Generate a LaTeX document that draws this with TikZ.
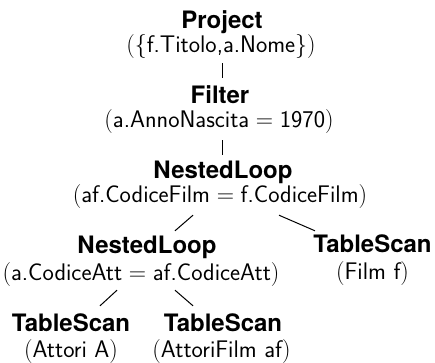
\RequirePackage{fix-cm}
\documentclass[tikz,border=0pt]{standalone}
\usepackage{fontspec}
\newfontfamily\opfont{TeX Gyre Heros}
\usetikzlibrary{calc}

% operator name and its argument, both set on their baseline
\tikzset{
  opname/.style={anchor=base, inner sep=0pt, text height=17pt, text depth=5pt,
    font=\opfont\bfseries\fontsize{24}{27}\selectfont},
  oparg/.style={anchor=base, inner sep=0pt, text height=16pt, text depth=5.5pt,
    font=\fontsize{24}{27}\selectfont},
  edge/.style={line width=1pt}
}
\newcommand{\sfv}[1]{\textsf{#1}}

\begin{document}
\begin{tikzpicture}[x=1pt,y=1pt]
\useasboundingbox (0,0) rectangle (435,-362);

\node[opname] (proj)  at (222,-28)  {Project};
\node[oparg]  (projs) at (221,-52)  {$(\{\sfv{f.Titolo,a.Nome}\})$};

\node[opname] (filt)  at (220,-103) {Filter};
\node[oparg]  (filts) at (219,-127) {$(\sfv{a.AnnoNascita}=\sfv{1970})$};

\node[opname] (nlA)   at (223,-178) {NestedLoop};
\node[oparg]  (nlAs)  at (220,-202) {$(\sfv{af.CodiceFilm}=\sfv{f.CodiceFilm})$};

\node[opname] (nlB)   at (147,-253) {NestedLoop};
\node[oparg]  (nlBs)  at (141,-280) {$(\sfv{a.CodiceAtt}=\sfv{af.CodiceAtt})$};

\node[opname] (tsF)   at (372.5,-252) {TableScan};
\node[oparg]  (tsFs)  at (372.5,-279) {$(\sfv{Film f})$};

\node[opname] (tsA)   at (71,-331)  {TableScan};
\node[oparg]  (tsAs)  at (71,-357)  {$(\sfv{Attori A})$};

\node[opname] (tsAF)  at (223,-331) {TableScan};
\node[oparg]  (tsAFs) at (221.5,-357) {$(\sfv{AttoriFilm af})$};

% tree edges
\draw[edge] ($(projs.south)+(1,-5.5)$) -- ($(filt.north)+(2,8)$);
\draw[edge] ($(filts.south)+(3,-7.5)$) -- ($(nlA.north)+(-1,6)$);
\draw[edge] ($(nlAs.south)+(-27,-7.5)$) -- ($(nlB.north)+(28,5)$);
\draw[edge] ($(nlAs.south)+(59,-7.5)$) -- ($(tsF.north)+(-57.5,4)$);
\draw[edge] ($(nlBs.south)+(-24,-4.5)$) -- ($(tsA.north)+(29,8)$);
\draw[edge] ($(nlBs.south)+(34,-4.5)$) -- ($(tsAF.north)+(-30,8)$);
\end{tikzpicture}
\end{document}
